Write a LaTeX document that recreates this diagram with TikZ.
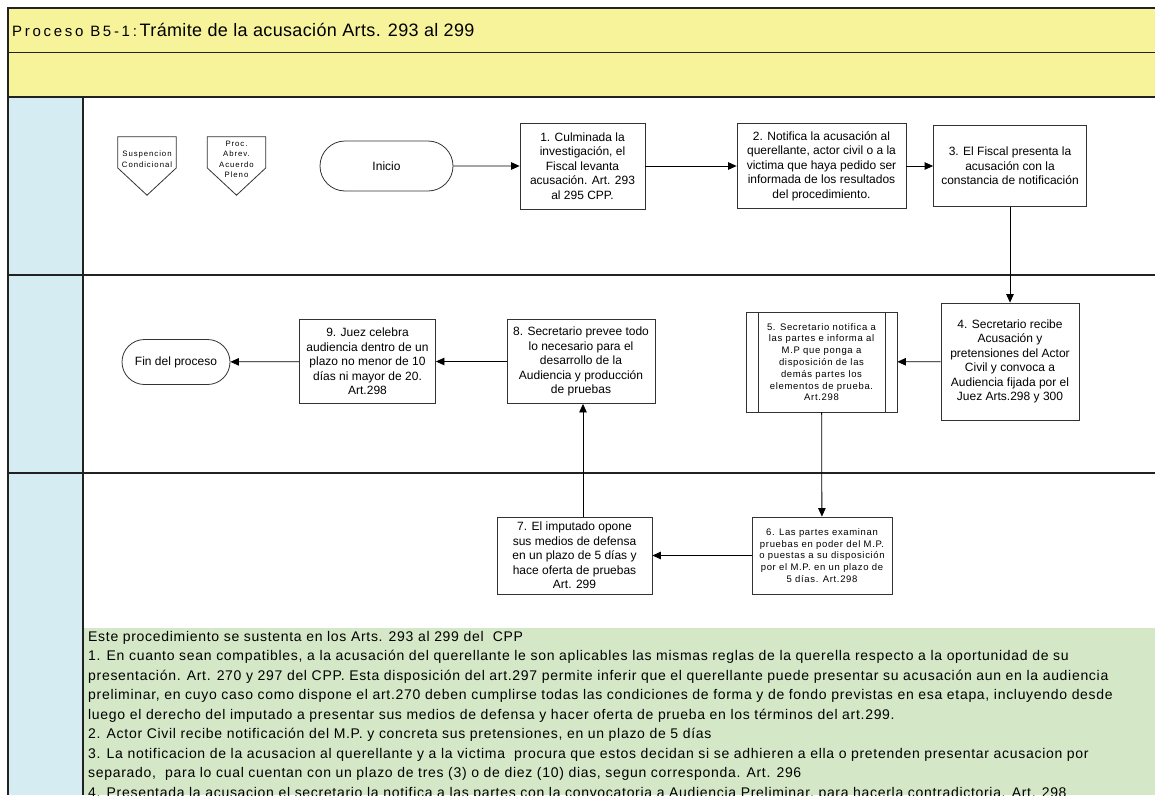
\documentclass[tikz,border=0pt]{standalone}
\usepackage{fontspec}
\setmainfont{Liberation Sans}
\usetikzlibrary{arrows.meta,shapes.misc,calc}
\definecolor{bandyellow}{HTML}{F7F39B}
\definecolor{lanecol}{HTML}{D5ECF2}
\definecolor{notegreen}{HTML}{D4E7C7}
\definecolor{framegray}{HTML}{222222}
\definecolor{boxline}{HTML}{333333}
\tikzset{
  stepbox/.style={draw=boxline, line width=0.8pt, fill=white, align=center,
    inner sep=2pt, font=\fontsize{12}{14.5}\selectfont},
  smallbox/.style={stepbox, font=\fontsize{9.5}{11.8}\selectfont\addfontfeature{LetterSpace=7}},
  terminal/.style={draw=boxline, line width=0.8pt, fill=white, rounded rectangle,
    inner sep=2pt, font=\fontsize{12}{14.5}\selectfont},
  offpage/.style={draw=none, minimum width=58pt, minimum height=58pt, inner sep=0pt},
  offtext/.style={align=center, inner sep=0pt,
    font=\fontsize{7.8}{10.5}\selectfont\addfontfeature{LetterSpace=12}},
  arr/.style={draw=black, line width=0.8pt, -{Triangle[length=8.5pt,width=7.5pt]}},
  frame/.style={draw=framegray, line width=1.6pt},
}
\begin{document}
\begin{tikzpicture}[x=1pt,y=-1pt]
\clip (0,0) rectangle (1155,795);
\fill[white] (0,0) rectangle (1155,795);

% header bands
\fill[bandyellow] (8,8) rectangle (1155,97);
\draw[draw=framegray, line width=1.2pt] (8,52.5) -- (1155,52.5);
% left lane column
\fill[lanecol] (8,97) rectangle (83,795);
% note area
\fill[notegreen] (83,628) rectangle (1155,795);
% frame and lane lines
\draw[frame] (1155,8) -- (8,8) -- (8,795);
\draw[frame] (8,97) -- (1155,97);
\draw[draw=framegray, line width=1.3pt] (8,275) -- (1155,275);
\draw[draw=framegray, line width=1.3pt] (8,473) -- (1155,473);
\draw[draw=framegray, line width=1.2pt] (83,97) -- (83,795);

% title
\node[anchor=base west, inner sep=0pt] (title) at (12,36)
  {{\fontsize{15}{17}\selectfont\addfontfeature{LetterSpace=18}Proceso B5-1:}\ {\fontsize{18}{21}\selectfont\addfontfeature{LetterSpace=2}Trámite de la acusación Arts. 293 al 299}};

% off-page connectors
\node[offpage] (susp) at (147,166) {};
\draw[draw=boxline, line width=0.8pt] (susp.north west) -- (susp.north east) -- ($(susp.east)+(0,2)$) -- (susp.south) -- ($(susp.west)+(0,2)$) -- cycle;
\node[offtext] (susptext) at (147,159) {Suspencion\\Condicional};
\node[offpage] (abrev) at (236.5,166) {};
\draw[draw=boxline, line width=0.8pt] (abrev.north west) -- (abrev.north east) -- ($(abrev.east)+(0,2)$) -- (abrev.south) -- ($(abrev.west)+(0,2)$) -- cycle;
\node[offtext] (abrevtext) at (236.5,159.5) {Proc.\\Abrev.\\Acuerdo\\Pleno};

% process steps
\node[terminal, minimum width=137pt, minimum height=50pt] (inicio) at (386.5,166) {Inicio};
\node[stepbox, minimum width=125pt, minimum height=86pt] (b1) at (582.5,166)
  {1. Culminada la\\investigación, el\\Fiscal levanta\\acusación. Art. 293\\al 295 CPP.};
\node[stepbox, minimum width=169pt, minimum height=85pt] (b2) at (821.5,166)
  {2. Notifica la acusación al\\querellante, actor civil o a la\\victima que haya pedido ser\\informada de los resultados\\del procedimiento.};
\node[stepbox, minimum width=153pt, minimum height=81pt] (b3) at (1010,166)
  {3. El Fiscal presenta la\\acusación con la\\constancia de notificación};
\node[stepbox, minimum width=138pt, minimum height=117pt] (b4) at (1010,361.5)
  {4. Secretario recibe\\Acusación y\\pretensiones del Actor\\Civil y convoca a\\Audiencia fijada por el\\Juez Arts.298 y 300};
\node[smallbox, minimum width=151pt, minimum height=100pt] (b5) at (821.5,362)
  {5. Secretario notifica a\\las partes e informa al\\M.P que ponga a\\disposición de las\\demás partes los\\elementos de prueba.\\Art.298};
\draw[draw=boxline, line width=0.8pt] ($(b5.north west)+(12.5,0)$) -- ($(b5.south west)+(12.5,0)$);
\draw[draw=boxline, line width=0.8pt] ($(b5.north east)+(-12.5,0)$) -- ($(b5.south east)+(-12.5,0)$);
\node[smallbox, minimum width=140pt, minimum height=77pt] (b6) at (822,555.5)
  {6. Las partes examinan\\pruebas en poder del M.P.\\o puestas a su disposición\\por el M.P. en un plazo de\\5 días. Art.298};
\node[stepbox, minimum width=155pt, minimum height=77pt] (b7) at (574.5,555.5)
  {7. El imputado opone\\sus medios de defensa\\en un plazo de 5 días y\\hace oferta de pruebas\\Art. 299};
\node[stepbox, minimum width=148pt, minimum height=84pt] (b8) at (581,361.5)
  {8. Secretario prevee todo\\lo necesario para el\\desarrollo de la\\Audiencia y producción\\de pruebas};
\node[stepbox, minimum width=136pt, minimum height=84pt] (b9) at (367.5,361.5)
  {9. Juez celebra\\audiencia dentro de un\\plazo no menor de 10\\días ni mayor de 20.\\Art.298};
\node[terminal, minimum width=112pt, minimum height=45pt] (fin) at (176,362) {Fin del proceso};

% flow
\draw[arr] (inicio) -- (b1);
\draw[arr] (b1) -- (b2);
\draw[arr] (b2) -- (b3);
\draw[arr] (b3) -- (b4);
\draw[arr] (b4) -- (b5);
\draw[arr] (b5) -- (b6);
\draw[arr] (b6) -- (b7);
\draw[arr] ($(b7.north)+(8.5,0)$) -- ($(b8.south)+(2,0)$);
\draw[arr] (b8) -- (b9);
\draw[arr] (b9) -- (fin);

% notes
\node[anchor=north west, align=left, inner sep=0pt,
  font=\fontsize{14}{19.5}\selectfont\addfontfeature{LetterSpace=5}] (notes) at (88,631)
  {Este procedimiento se sustenta en los Arts. 293 al 299 del\ \ CPP\\
   1. En cuanto sean compatibles, a la acusación del querellante le son aplicables las mismas reglas de la querella respecto a la oportunidad de su\\
   presentación. Art. 270 y 297 del CPP. Esta disposición del art.297 permite inferir que el querellante puede presentar su acusación aun en la audiencia\\
   preliminar, en cuyo caso como dispone el art.270 deben cumplirse todas las condiciones de forma y de fondo previstas en esa etapa, incluyendo desde\\
   luego el derecho del imputado a presentar sus medios de defensa y hacer oferta de prueba en los términos del art.299.\\
   2. Actor Civil recibe notificación del M.P. y concreta sus pretensiones, en un plazo de 5 días\\
   3. La notificacion de la acusacion al querellante y a la victima\ \ procura que estos decidan si se adhieren a ella o pretenden presentar acusacion por\\
   separado,\ \ para lo cual cuentan con un plazo de tres (3) o de diez (10) dias, segun corresponda. Art. 296\\
   4. Presentada la acusacion el secretario la notifica a las partes con la convocatoria a Audiencia Preliminar, para hacerla contradictoria. Art. 298};
\end{tikzpicture}
\end{document}
